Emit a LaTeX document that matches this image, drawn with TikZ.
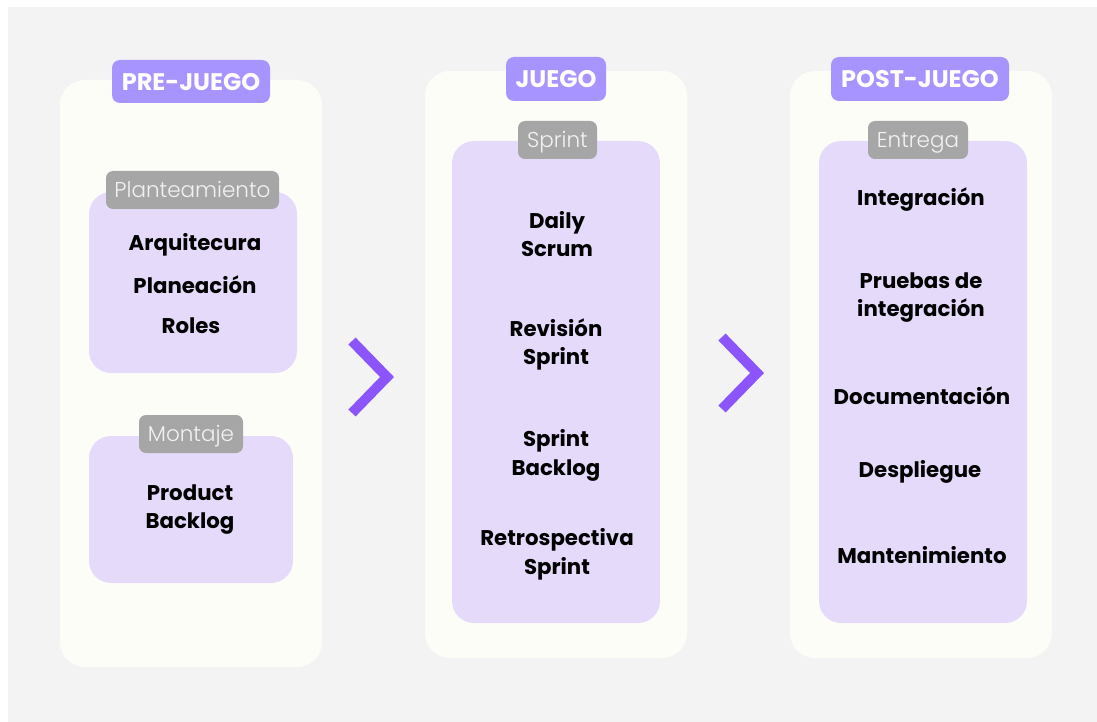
\documentclass[tikz,border=0pt]{standalone}
\usepackage{fontspec}
\setmainfont{Poppins}
\newfontfamily\poplight{Poppins Light}
\definecolor{bgGrey}{HTML}{F3F3F4}
\definecolor{panelCream}{HTML}{FDFDF8}
\definecolor{tagPurple}{HTML}{A794FE}
\definecolor{boxLav}{HTML}{E6DAFA}
\definecolor{labelGrey}{HTML}{A6A6A6}
\definecolor{labelText}{HTML}{F2F2F2}
\definecolor{chevPurple}{HTML}{8C55FB}
\begin{document}
\begin{tikzpicture}[x=1pt,y=-1pt,
  panel/.style={fill=panelCream, rounded corners=25pt, inner sep=0pt},
  phasetag/.style={fill=tagPurple, rounded corners=8pt, inner sep=0pt, text=white,
    text height=18pt, text depth=0pt,
    font=\fontsize{24}{30}\selectfont\bfseries},
  stagebox/.style={fill=boxLav, rounded corners=22pt, inner sep=0pt},
  stagelabel/.style={fill=labelGrey, rounded corners=7pt, inner sep=0pt, text=labelText,
    text height=15pt, text depth=0pt,
    font=\poplight\fontsize{21.5}{24}\selectfont},
  item/.style={align=center, text=black, inner sep=0pt,
    font=\fontsize{21.3}{28.5}\selectfont\bfseries},
  chevron/.style={draw=chevPurple, line width=10pt, miter limit=10}
]
\useasboundingbox (0,0) rectangle (1097,722);
\fill[white] (0,0) rectangle (1097,722);
\fill[bgGrey] (8,7) rectangle (1097,722);

% phase panels
\node[panel, minimum width=262, minimum height=587] (pre)   at (191,373.5) {};
\node[panel, minimum width=262, minimum height=587] (juego) at (556,364.5) {};
\node[panel, minimum width=262, minimum height=587] (post)  at (921,364.5) {};

% stage boxes
\node[stagebox, minimum width=208, minimum height=181] (plan)    at (193,282.5) {};
\node[stagebox, minimum width=204, minimum height=147] (montaje) at (191,509.5) {};
\node[stagebox, minimum width=208, minimum height=482] (sprint)  at (556,382) {};
\node[stagebox, minimum width=208, minimum height=482] (entrega) at (923,382) {};

% phase titles
\node[phasetag, minimum width=158, minimum height=43] (preTag)   at (191,81.5) {PRE-JUEGO};
\node[phasetag, minimum width=100, minimum height=44] (juegoTag) at (556,79) {JUEGO};
\node[phasetag, minimum width=178, minimum height=44] (postTag)  at (920,79) {POST-JUEGO};

% stage labels
\node[stagelabel, minimum width=173, minimum height=38] (planLbl)    at (192.5,190) {Planteamiento};
\node[stagelabel, minimum width=104, minimum height=38] (montajeLbl) at (191,434) {Montaje};
\node[stagelabel, minimum width=79,  minimum height=38] (sprintLbl)  at (557.5,140) {Sprint};
\node[stagelabel, minimum width=100, minimum height=38] (entregaLbl) at (918,140) {Entrega};

% pre-juego items
\node[item] (arq)   at (195,245) {Arquitecura};
\node[item] (plane) at (195,284.5) {Planeación};
\node[item] (roles) at (191,325.5) {Roles};
\node[item] (pb)    at (190,509.5) {Product\\Backlog};

% juego items
\node[item] (daily) at (557,234) {Daily\\Scrum};
\node[item] (rev)   at (556,344.5) {Revisión\\Sprint};
\node[item] (sb)    at (556,455.5) {Sprint\\Backlog};
\node[item] (retro) at (557,554.5) {Retrospectiva\\Sprint};

% post-juego items
\node[item] (integ)   at (921,199.5) {Integración};
\node[item] (pruebas) at (921,297.5) {Pruebas de\\integración};
\node[item] (doc)     at (922,395.5) {Documentación};
\node[item] (desp)    at (920,471.5) {Despliegue};
\node[item] (mant)    at (922,555.5) {Mantenimiento};

% chevrons between phases
\coordinate (c1a) at (352,341);
\coordinate (c1b) at (387,377);
\coordinate (c1c) at (352,413);
\coordinate (c2a) at (722,337);
\coordinate (c2b) at (757,373);
\coordinate (c2c) at (722,409);
\draw[chevron] (c1a) -- (c1b) -- (c1c);
\draw[chevron] (c2a) -- (c2b) -- (c2c);
\end{tikzpicture}
\end{document}
